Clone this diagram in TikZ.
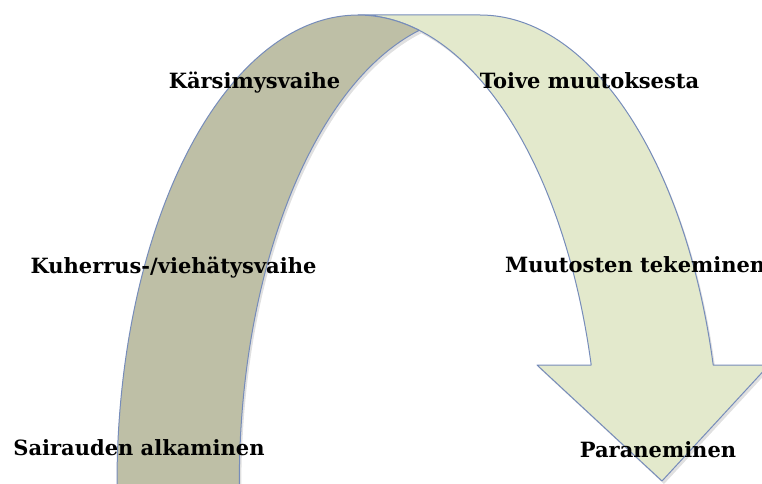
\documentclass[tikz,border=0pt]{standalone}
\usepackage{fontspec}
\setmainfont{DejaVu Serif}
\usetikzlibrary{positioning}
\usepackage{xcolor}
\definecolor{backband}{RGB}{190,191,166}
\definecolor{frontband}{RGB}{227,233,204}
\definecolor{edgeblue}{RGB}{118,140,186}

\begin{document}
\begin{tikzpicture}[x=1pt, y=1pt,
      band/.style={draw=edgeblue, line width=1pt, line join=round,
                   preaction={fill=black, fill opacity=.12,
                              transform canvas={xshift=2pt, yshift=-3pt}}},
      phase/.style={font=\bfseries\fontsize{21}{25}\selectfont,
                    anchor=base, inner sep=0pt, text=black}]
    \useasboundingbox (0,0) rectangle (762,483);
    \clip (0,0) rectangle (762,483);
    \draw[band, fill=frontband] (358,468) -- (480,468)
        arc[start angle=90, end angle=14.6, x radius=241, y radius=468]
        -- (769,118) -- (662,2) -- (537,118) -- (591.2,118)
        arc[start angle=14.6, end angle=90, x radius=241, y radius=468] -- cycle;
    \draw[band, fill=backband] (117,-10) -- (117,0)
        arc[start angle=180, end angle=75.3, x radius=241, y radius=468]
        arc[start angle=104.7, end angle=180, x radius=241, y radius=468]
        -- (239,-10) -- cycle;
    \node[phase] (suffer) at (254.5,394) {Kärsimysvaihe};
    \node[phase] (hope) at (589.5,394) {Toive muutoksesta};
    \node[phase] (charm) at (173.5,210) {Kuherrus-/viehätysvaihe};
    \node[phase, anchor=base west] (change) at (505,211) {Muutosten tekeminen};
    \node[phase] (onset) at (139,28) {Sairauden alkaminen};
    \node[phase] (heal) at (658,26) {Paraneminen};
\end{tikzpicture}
\end{document}
